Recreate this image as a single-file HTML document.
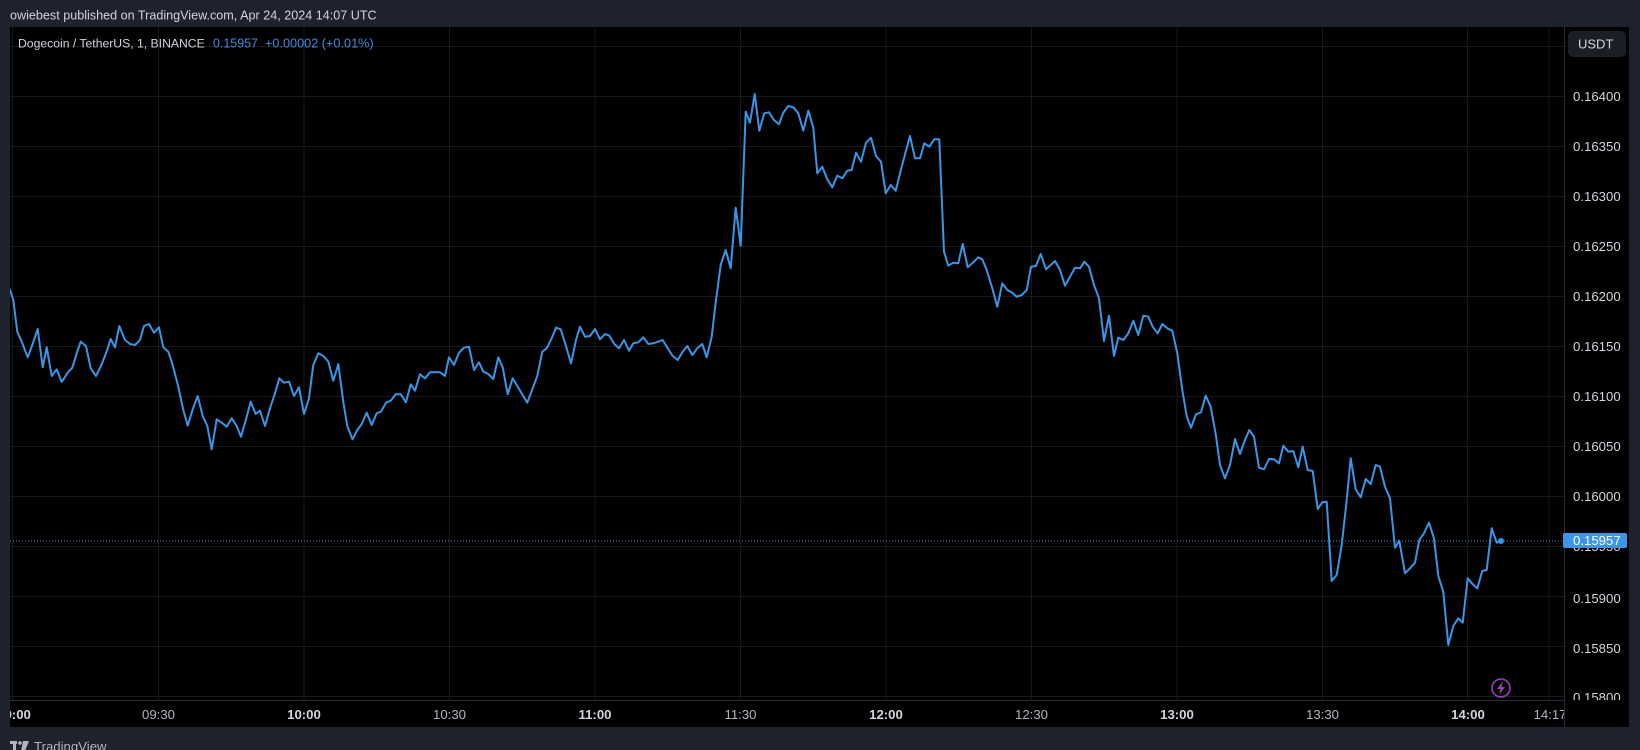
<!DOCTYPE html>
<html><head><meta charset="utf-8"><style>
html,body{margin:0;padding:0;background:#1e222d;width:1640px;height:750px;overflow:hidden}
svg{display:block}
text{font-family:"Liberation Sans",sans-serif}
</style></head><body>
<svg width="1640" height="750" viewBox="0 0 1640 750" xmlns="http://www.w3.org/2000/svg">
<defs>
<clipPath id="plot"><rect x="10" y="27" width="1554" height="673"/></clipPath>
<clipPath id="paxis"><rect x="1565" y="27" width="64" height="673"/></clipPath>
<clipPath id="taxis"><rect x="10" y="701" width="1554" height="26"/></clipPath>
</defs>
<rect x="0" y="0" width="1640" height="750" fill="#1e222d"/>
<text x="10" y="19.5" font-size="12.6" fill="#d1d4dc">owiebest published on TradingView.com, Apr 24, 2024 14:07 UTC</text>
<rect x="10" y="27" width="1619" height="700" fill="#000"/>
<g clip-path="url(#plot)" stroke="#17181c" stroke-width="1" fill="none">
<path d="M10 46.5H1564M10 96.5H1564M10 146.5H1564M10 196.5H1564M10 246.5H1564M10 296.5H1564M10 346.5H1564M10 396.5H1564M10 446.5H1564M10 496.5H1564M10 546.5H1564M10 596.5H1564M10 646.5H1564M10 696.5H1564"/>
<path d="M12.5 27V700M158.5 27V700M304 27V700M449.5 27V700M595 27V700M740.5 27V700M886 27V700M1031.5 27V700M1177 27V700M1322.5 27V700M1467.5 27V700M1549 27V700"/>
</g>
<g clip-path="url(#plot)">
<line x1="10" y1="541" x2="1564" y2="541" stroke="#3d95e8" stroke-width="1" stroke-dasharray="1,2"/>
<polyline fill="none" stroke="#3a95e6" stroke-width="2" stroke-linejoin="round" stroke-linecap="round" points="8,285 10,290 13.3,300 17.3,331.7 21.7,341.7 27.7,357.3 32.3,345 37.7,329 42.7,367.3 46.7,347.3 51.7,376 56.7,369.3 61.7,382 67.7,372.7 72.3,367.7 76.7,353.3 80.7,341.7 86,346 90.7,368.3 96,376 101,366 106,353.3 110.7,339 115,347.3 119.3,326 125,340 130,344 135,345 140,340 144,326 149,324 154,332.7 159,327.3 163.3,347.3 168.3,351.7 172.7,365 178.3,386.7 183.3,410 187.7,425.7 192.7,409.3 197.7,396 202.7,416 207.3,426 211.7,449.3 216.7,419.3 221.7,422.7 226.7,426.7 231.7,418.3 236.7,426 241,436.7 246,419.3 250.7,401.7 255.7,414 260,410.7 265,426 270,408.3 275,393.3 279.3,378.3 284,382.7 289,381.7 294,396 299,387.3 304,414 309,398.3 313.3,365 318.3,353.3 323.3,356 328.3,361.7 333.3,380.7 338.3,364 343.3,402 347.3,426 352.5,439.3 357.3,430 361.7,424 366.7,412.7 371.7,425 376.7,413.3 381,411.7 386,402.7 390.7,400.7 395.7,394.3 400.7,394.3 406,402.3 410.7,384.3 415,390.7 420,374.3 425,378.3 430,372.3 435,372.3 440,372.3 445,376 449,357.3 454,365 459,352.7 464,347.7 469,346.7 474,370 479,362.3 483.3,371.7 488.3,374 493.3,379 498.3,357.3 502.7,367.3 507.7,394.3 512.7,378.3 517.7,386.7 522.7,395 527.3,402.7 532.3,389.3 537.3,376 542.3,351.7 546.7,348.3 551.7,338.3 556,327.7 560.7,329.3 565.7,345 571,363.3 576,340 580,326.7 585,336.7 590,336 595,329 600,339.3 605,334 609.3,335.7 614.3,344 619,348.3 624,340 629,350.7 633.3,343.3 638.3,342.3 643.3,337.3 648.3,344 653.3,343.3 658.3,341.7 662.7,340 667.7,348.3 672.7,356 677.7,360 682.7,351.7 687.3,346 692.3,355 697.3,348.3 702.3,344 706.7,357.3 711.7,336.7 716,300 720.7,265 725.7,250 730.7,268.3 735.7,207.7 740.7,245.7 745.7,111.7 750,122.7 754.7,94 759.3,130.7 764.3,113.3 769,112.3 774,120 779,124.3 783.3,112.7 788.3,106 793.3,107.3 798.3,113.3 803.3,130.7 808.3,110.7 813.3,127.7 817.3,173.3 822.3,166.7 827.3,179.3 832.3,187.3 837.3,175.7 842.3,178.3 847.3,170.7 851.7,170 856,152.7 861,161.7 866,142.7 871,137.7 876,156 881,161.7 885.7,193.3 890.7,185 895.7,190.7 900.7,170.7 905.7,151.7 910,136 915,158.3 920,158.3 924.3,143.3 929.3,146.7 934.3,139.3 939.3,139.3 944,251.7 948.3,265.7 953.3,262.7 958.3,263.3 962.7,244 967.7,267.3 973.3,262.3 978.3,257.3 982.3,259.3 986.7,270 992.3,288.3 997.3,306.7 1002.3,283.3 1007.3,290 1011.7,292.3 1016.7,296.7 1021.7,295 1026.7,290 1031,266.7 1036,266 1040.7,254 1046,269.3 1050.7,265 1055,261 1060,270 1065,285.7 1070,276.7 1075,267.7 1080,268.3 1084.3,261.7 1089,266.7 1094,285 1099,298.3 1104,341 1109,315.7 1114,356 1118.3,337.7 1123.3,340 1128.3,333.3 1133.3,320.7 1138.3,335 1143.3,315.7 1148.3,316.7 1152.7,326.7 1157.7,333.3 1162.3,324 1167.3,328.3 1172.3,330.7 1177.3,353.3 1182.3,390 1186.7,416 1191,427.7 1196,414.3 1201,412.3 1205.7,395.7 1210.7,406.7 1215.7,434 1220,465 1225,478.3 1230,465 1235,439 1240,454 1244.3,441.7 1249.3,430 1254,436.7 1259,467.7 1264,469.3 1269,459 1274,459.3 1279,463.3 1283.3,445.7 1288.3,451.7 1293.3,451 1298.3,467.3 1302.7,446.7 1307.7,470 1312.7,471 1317.7,509 1322.3,502.3 1326.7,501.7 1331.7,581 1336.7,575 1341.7,545 1346,506.7 1350.7,458.3 1355.7,489.3 1360.7,497.3 1365.7,479 1370.7,484 1375.7,465 1380,466.7 1385,486.7 1390,498.3 1395,547.7 1399.3,540.7 1405,573.3 1410,568.3 1415,562.7 1419.3,540 1424,533.3 1429,522.7 1434,538.3 1438.3,576 1443.3,591.7 1448.3,645 1453.3,626 1458.3,618.3 1462.7,622.7 1467.7,578.3 1472.7,584.3 1477.3,588.3 1482.3,571 1486.7,570 1491.7,528.3 1496.7,542.7 1501,541"/>
<circle cx="1501" cy="541" r="3" fill="#3a95e6"/>
<circle cx="1501" cy="688" r="9" fill="none" stroke="#9c3fb5" stroke-width="1.6"/>
<polygon points="1503,681 1497,689 1500.5,689 1499,695 1505,687 1501.5,687" fill="#9c3fb5"/>
</g>
<text x="18" y="47.5" font-size="12.2" fill="#d1d4dc">Dogecoin / TetherUS, 1, BINANCE</text>
<text x="213" y="47.5" font-size="12.45" fill="#3a8ee0">0.15957</text>
<text x="265" y="47.5" font-size="12.7" fill="#3a8ee0">+0.00002 (+0.01%)</text>
<line x1="1564.5" y1="27" x2="1564.5" y2="727" stroke="#2a2e39" stroke-width="1"/>
<line x1="10" y1="700.5" x2="1564" y2="700.5" stroke="#2a2e39" stroke-width="1"/>
<g clip-path="url(#paxis)" font-size="13.2" fill="#d1d4dc">
<text x="1573" y="101">0.16400</text>
<text x="1573" y="151">0.16350</text>
<text x="1573" y="201">0.16300</text>
<text x="1573" y="251">0.16250</text>
<text x="1573" y="301">0.16200</text>
<text x="1573" y="351">0.16150</text>
<text x="1573" y="401">0.16100</text>
<text x="1573" y="451">0.16050</text>
<text x="1573" y="501">0.16000</text>
<text x="1573" y="551">0.15950</text>
<text x="1573" y="603">0.15900</text>
<text x="1573" y="653">0.15850</text>
<text x="1573" y="702">0.15800</text>
</g>
<rect x="1563" y="533" width="64" height="15" rx="2" fill="#3d95e8"/>
<text x="1573" y="545" font-size="13.2" fill="#ffffff">0.15957</text>
<rect x="1568" y="31" width="58" height="26" rx="5" fill="#1b1e26"/>
<text x="1578" y="48.5" font-size="13" fill="#d1d4dc">USDT</text>
<g clip-path="url(#taxis)" font-size="13.2" text-anchor="middle">
<text x="14" y="719" font-weight="bold" fill="#d1d4dc">09:00</text>
<text x="158.5" y="719" fill="#b2b5be">09:30</text>
<text x="304" y="719" font-weight="bold" fill="#d1d4dc">10:00</text>
<text x="449.5" y="719" fill="#b2b5be">10:30</text>
<text x="595" y="719" font-weight="bold" fill="#d1d4dc">11:00</text>
<text x="740.5" y="719" fill="#b2b5be">11:30</text>
<text x="886" y="719" font-weight="bold" fill="#d1d4dc">12:00</text>
<text x="1031.5" y="719" fill="#b2b5be">12:30</text>
<text x="1177" y="719" font-weight="bold" fill="#d1d4dc">13:00</text>
<text x="1322.5" y="719" fill="#b2b5be">13:30</text>
<text x="1468" y="719" font-weight="bold" fill="#d1d4dc">14:00</text>
<text x="1550" y="719" fill="#b2b5be">14:17</text>
</g>
<g fill="#b2b5be">
<rect x="10" y="741" width="7" height="3"/>
<rect x="13" y="741" width="3" height="10"/>
<circle cx="20" cy="743" r="1.8"/>
<polygon points="23,741 29,741 25,751 21,751"/>
</g>
<text x="34" y="751" font-size="13.2" fill="#b2b5be">TradingView</text>
</svg>
</body></html>
